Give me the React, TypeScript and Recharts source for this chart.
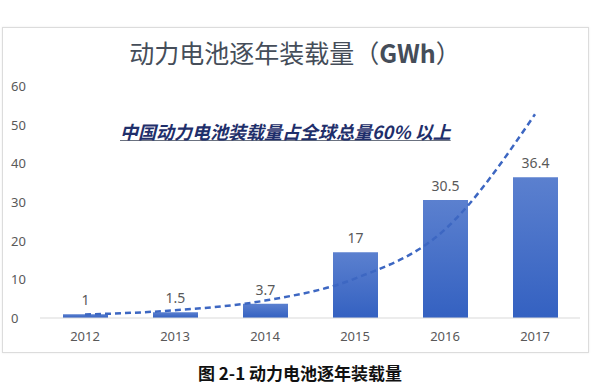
import React from "react"
import { ComposedChart, Bar, Line, XAxis, YAxis, CartesianGrid, LabelList } from "recharts"

// values
const years = ["2012", "2013", "2014", "2015", "2016", "2017"]
const installed = [1, 1.5, 3.7, 17, 30.5, 36.4]
// dashed exponential trend curve, read at each year
const trend = [0.9, 2.0, 4.5, 10.2, 22.9, 52.7]
const yTicks = [0, 10, 20, 30, 40, 50, 60]

const chartData = years.map((year, i) => ({ year, installed: installed[i], trend: trend[i] }))

const tickFont = "'Noto Sans', 'Open Sans', sans-serif"
const cjkFont = "'Noto Sans CJK SC', 'Noto Sans', sans-serif"

const YTick = (props: any) => {
  const { y, payload } = props
  return (
    <text x={11} y={y} dy={5} textAnchor="start" fill="#595959" fontSize={13} fontFamily={tickFont}>
      {payload.value}
    </text>
  )
}

export default function App() {
  return (
    <div style={{ position: "absolute", left: 0, top: 0, width: 600, height: 384, background: "#fff", overflow: "hidden" }}>
      {/* chart frame */}
      <div
        style={{
          position: "absolute",
          left: 2,
          top: 27,
          width: 585,
          height: 324,
          border: "1px solid #dcdcdc",
          boxShadow: "0 0 2px rgba(0,0,0,0.08)",
        }}
      />
      <div
        style={{
          position: "absolute",
          left: 0,
          top: 36,
          width: 590,
          textAlign: "center",
          fontFamily: cjkFont,
          fontSize: 25,
          color: "#454d59",
          lineHeight: "32px",
        }}
      >
        动力电池逐年装载量（<span style={{ fontWeight: 700 }}>GWh</span>）
      </div>

      <ComposedChart
        width={600}
        height={384}
        data={chartData}
        margin={{ top: 86, right: 20, bottom: 36, left: 0 }}
        style={{ position: "absolute", left: 0, top: 0 }}
      >
        <defs>
          <linearGradient id="barGrad" x1="0" y1="0" x2="0" y2="1">
            <stop offset="0%" stopColor="#5b80cf" />
            <stop offset="100%" stopColor="#3461c1" />
          </linearGradient>
        </defs>
        <CartesianGrid vertical={false} horizontal={false} />
        <XAxis
          dataKey="year"
          height={30}
          axisLine={{ stroke: "#d9d9d9" }}
          tickLine={false}
          tick={{ fill: "#595959", fontSize: 13, fontFamily: tickFont }}
          tickMargin={8}
        />
        <YAxis
          width={40}
          domain={[0, 60]}
          ticks={yTicks}
          axisLine={false}
          tickLine={false}
          tick={<YTick />}
        />
        <Bar dataKey="installed" barSize={45} fill="url(#barGrad)" isAnimationActive={false}>
          <LabelList dataKey="installed" position="top" offset={9} fill="#595959" fontSize={14} fontFamily={tickFont} />
        </Bar>
        <Line
          dataKey="trend"
          type="monotone"
          stroke="#3d67c2"
          strokeWidth={2.5}
          strokeDasharray="6 4"
          dot={false}
          activeDot={false}
          isAnimationActive={false}
        />
      </ComposedChart>

      <div
        style={{
          position: "absolute",
          left: 120,
          top: 119,
          fontFamily: cjkFont,
          fontSize: 18,
          fontWeight: 700,
          fontStyle: "italic",
          color: "#1f2f6b",
          textDecoration: "underline",
          textDecorationColor: "#6b7280",
          lineHeight: "24px",
          whiteSpace: "nowrap",
        }}
      >
        中国动力电池装载量占全球总量60% 以上
      </div>

      <div
        style={{
          position: "absolute",
          left: 0,
          top: 363,
          width: 600,
          textAlign: "center",
          fontFamily: cjkFont,
          fontSize: 17,
          fontWeight: 700,
          color: "#111",
          lineHeight: "20px",
        }}
      >
        图 2-1 动力电池逐年装载量
      </div>
    </div>
  )
}
